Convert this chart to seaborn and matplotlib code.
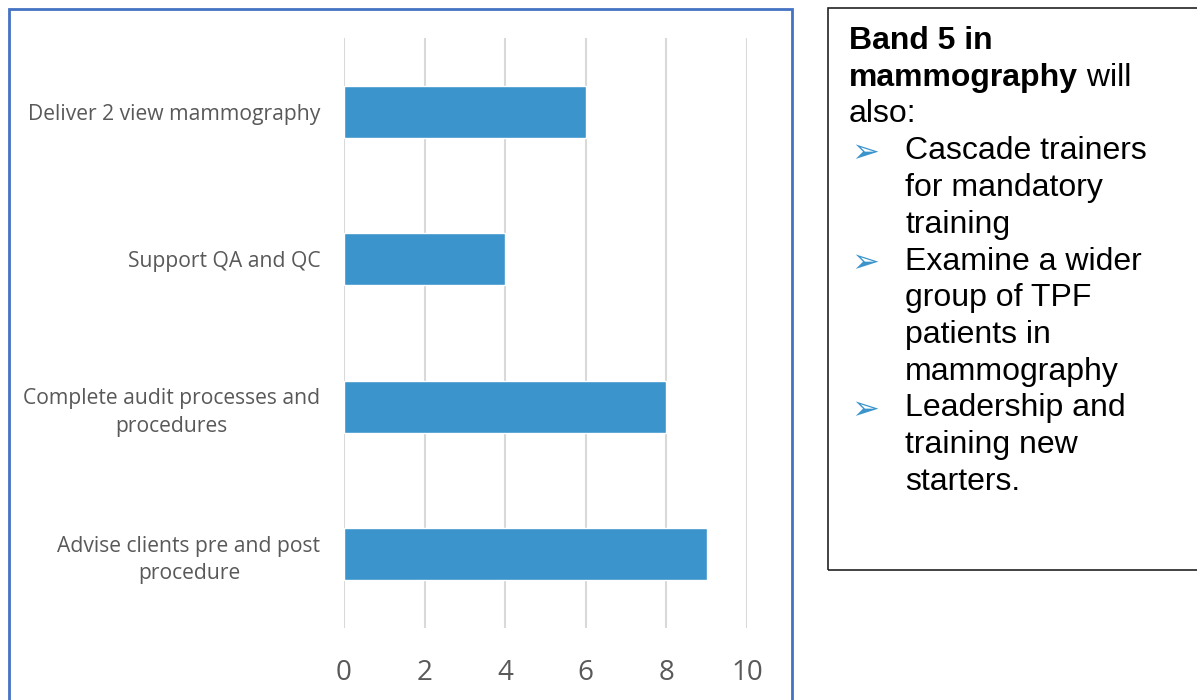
import matplotlib
matplotlib.use("Agg")
import matplotlib.pyplot as plt
from matplotlib.patches import Rectangle
import seaborn as sns
import pandas as pd

# Band 5 mammography competencies
categories = [
    "Deliver 2 view mammography",
    "Support QA and QC",
    "Complete audit processes and\nprocedures",
    "Advise clients pre and post\nprocedure",
]
values = [6, 4, 8, 9]
x_ticks = [0, 2, 4, 6, 8, 10]

heading_bold = ["Band 5 in", "mammography"]
heading_rest = [" will", "also:"]
bullets = [
    ["Cascade trainers", "for mandatory", "training"],
    ["Examine a wider", "group of TPF", "patients in", "mammography"],
    ["Leadership and", "training new", "starters."],
]

sns.set_theme(style="white")
plt.rcParams["font.family"] = ["Open Sans", "DejaVu Sans"]

W, H = 1197, 700
fig = plt.figure(figsize=(W / 100, H / 100), dpi=100)
ax = fig.add_axes([344 / W, 1 - 628 / H, (747 - 344) / W, (628 - 38) / H])

df = pd.DataFrame({"task": categories, "score": values})
sns.barplot(data=df, x="score", y="task", orient="h", color="#3C94CC",
            saturation=1, width=0.35, ax=ax, zorder=3)

ax.set_xlim(0, 10)
ax.set_ylim(3.5, -0.5)
ax.set_xticks(x_ticks)
ax.set_xlabel("")
ax.set_ylabel("")
ax.grid(axis="x", color="#D9D9D9", linewidth=1.5, zorder=0)
ax.grid(axis="y", visible=False)
for s in ax.spines.values():
    s.set_visible(False)
ax.tick_params(axis="x", length=0, pad=22, labelsize=20, labelcolor="#595959")
ax.tick_params(axis="y", length=0, pad=17, labelsize=15.2, labelcolor="#595959")
for lbl in ax.get_yticklabels():
    lbl.set_multialignment("center")
    lbl.set_linespacing(1.4)

# Chart frame
fig.patches.append(Rectangle((9 / W, -0.05), (792 - 9) / W, 1 - 9 / H + 0.05,
                             transform=fig.transFigure, fill=False,
                             edgecolor="#4472C4", linewidth=2))
# Text box frame
fig.patches.append(Rectangle((828 / W, 1 - 570 / H), (1210 - 828) / W, (570 - 8) / H,
                             transform=fig.transFigure, fill=False,
                             edgecolor="#222222", linewidth=1.2))

fs = 23
step = 36.75
tx = 849 / W
ix = 905 / W
bx = 851 / W
y = 41
txt_font = ["Liberation Sans", "DejaVu Sans"]

# Heading lines: bold lead-in followed by regular text
fig.text(tx, 1 - y / H, heading_bold[0], fontsize=fs, fontweight="bold",
         family=txt_font, va="center", color="black")
y += step
t2 = fig.text(tx, 1 - y / H, heading_bold[1], fontsize=fs, fontweight="bold",
              family=txt_font, va="center", color="black")
fig.canvas.draw()
bb = t2.get_window_extent()
fig.text(bb.x1 / W, 1 - y / H, heading_rest[0], fontsize=fs, family=txt_font,
         va="center", color="black")
y += step
fig.text(tx, 1 - y / H, heading_rest[1], fontsize=fs, family=txt_font,
         va="center", color="black")
y += step

for item in bullets:
    fig.text(bx, 1 - (y + 1) / H, "\u27A2", fontsize=24, family=["DejaVu Sans"],
             va="center", color="#3C94CC")
    for line in item:
        fig.text(ix, 1 - y / H, line, fontsize=fs, family=txt_font,
                 va="center", color="black")
        y += step

fig.savefig("out.png", dpi=100)
